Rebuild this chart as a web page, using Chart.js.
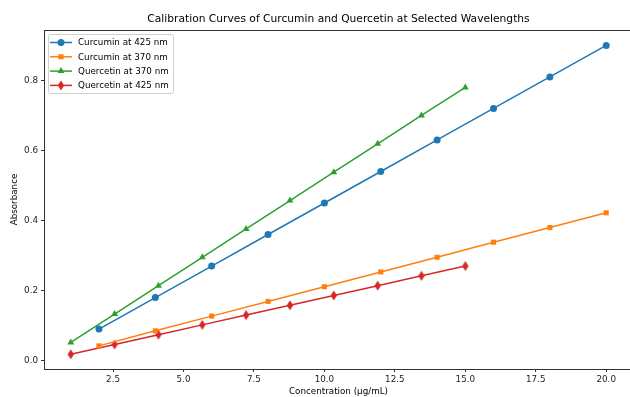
<!DOCTYPE html>
<html><head><meta charset="utf-8">
<script src="https://cdn.jsdelivr.net/npm/chart.js@4/dist/chart.umd.min.js"></script>
<style>html,body{margin:0;padding:0;background:#fff;overflow:hidden}#wrap{width:630px;height:397px;position:relative;overflow:hidden}</style>
</head><body><div id="wrap"><canvas id="c" width="633" height="397"></canvas></div>
<script>
const curcuminX = [2,4,6,8,10,12,14,16,18,20];
const curcumin425 = [0.09,0.18,0.27,0.36,0.45,0.54,0.63,0.72,0.81,0.90];
const curcumin370 = [0.042,0.085,0.127,0.169,0.211,0.253,0.295,0.338,0.380,0.422];
const quercetinX = [1,2.556,4.111,5.667,7.222,8.778,10.333,11.889,13.444,15];
const quercetin370 = [0.052,0.133,0.214,0.295,0.376,0.457,0.538,0.619,0.700,0.780];
const quercetin425 = [0.018,0.046,0.074,0.102,0.130,0.158,0.186,0.214,0.242,0.270];
const xTicks = [2.5,5.0,7.5,10.0,12.5,15.0,17.5,20.0];
const yTicks = [0.0,0.2,0.4,0.6,0.8];
const seriesLabels = ['Curcumin at 425 nm','Curcumin at 370 nm','Quercetin at 370 nm','Quercetin at 425 nm'];

const colors = ['#1f77b4','#ff7f0e','#2ca02c','#d62728'];
function thinDiamond(color){
  const c=document.createElement('canvas');c.width=8;c.height=11;
  const g=c.getContext('2d');g.fillStyle=color;g.beginPath();
  g.moveTo(4,0.5);g.lineTo(7.2,5.5);g.lineTo(4,10.5);g.lineTo(0.8,5.5);g.closePath();g.fill();
  return c;
}
const diamond = thinDiamond(colors[3]);
const styles = ['circle','rect','triangle',diamond];
const radii = [3.5,3.6,4,4];
const FONT = 'DejaVu Sans';
function pts(xs,ys){return xs.map((x,i)=>({x:x,y:ys[i]}));}
const datas=[pts(curcuminX,curcumin425),pts(curcuminX,curcumin370),pts(quercetinX,quercetin370),pts(quercetinX,quercetin425)];

const deco = {
  id:'deco',
  afterDraw(chart){
    const ctx=chart.ctx, a=chart.chartArea;
    ctx.save();
    ctx.strokeStyle='#333';ctx.lineWidth=1;
    ctx.strokeRect(a.left+0.5,a.top+0.5,a.right-a.left-1,a.bottom-a.top);
    ctx.fillStyle='#000';ctx.font='10.7px "'+FONT+'"';ctx.textAlign='center';ctx.textBaseline='middle';
    ctx.fillText('Calibration Curves of Curcumin and Quercetin at Selected Wavelengths',(a.left+a.right)/2,19);
    // legend
    const lx=48, ly=34, lw=125, lh=59;
    ctx.fillStyle='rgba(255,255,255,0.8)';ctx.strokeStyle='#d0d0d0';
    ctx.beginPath();ctx.roundRect(lx+0.5,ly+0.5,lw,lh,2);ctx.fill();ctx.stroke();
    ctx.font='8.75px "'+FONT+'"';ctx.textAlign='left';
    for(let i=0;i<4;i++){
      const y=ly+8.5+i*14.3;
      ctx.strokeStyle=colors[i];ctx.lineWidth=1.5;
      ctx.beginPath();ctx.moveTo(lx+2,y);ctx.lineTo(lx+24,y);ctx.stroke();
      ctx.fillStyle=colors[i];
      if(i===3){ctx.drawImage(diamond,lx+13-4,y-5.5);}
      else Chart.helpers.drawPoint(ctx,{pointStyle:styles[i],radius:radii[i],borderWidth:0},lx+13,y);
      ctx.fillStyle='#000';
      ctx.fillText(seriesLabels[i],lx+30,y+0.5);
    }
    ctx.restore();
  }
};

new Chart(document.getElementById('c'),{
  type:'line',
  data:{datasets:datas.map((d,i)=>({
    label:seriesLabels[i],data:d,borderColor:colors[i],backgroundColor:colors[i],
    borderWidth:1.5,pointStyle:styles[i],pointRadius:radii[i],pointBorderWidth:0,
    pointBackgroundColor:colors[i],fill:false,tension:0,clip:false
  }))},
  options:{
    responsive:false,animation:false,
    layout:{autoPadding:false,padding:{top:30,right:0,left:0,bottom:0}},
    plugins:{legend:{display:false},title:{display:false},tooltip:{enabled:false}},
    scales:{
      x:{type:'linear',min:0.05,max:20.95,
        afterFit(s){s.height=28;s.paddingLeft=0;s.paddingRight=0;},
        afterBuildTicks(s){s.ticks=xTicks.map(v=>({value:v}));},
        ticks:{callback:v=>v.toFixed(1),color:'#222',font:{family:FONT,size:8.75},padding:2,maxRotation:0,autoSkip:false},
        grid:{drawOnChartArea:false,drawTicks:true,tickLength:3,color:'#333'},
        border:{display:true,color:'#333'},
        title:{display:true,text:'Concentration (µg/mL)',color:'#000',font:{family:FONT,size:8.75},padding:{top:1,bottom:0}}
      },
      y:{type:'linear',min:-0.024,max:0.944,
        afterFit(s){s.width=44;s.paddingTop=0;s.paddingBottom=0;},
        afterBuildTicks(s){s.ticks=yTicks.map(v=>({value:v}));},
        ticks:{callback:v=>v.toFixed(1),color:'#222',font:{family:FONT,size:8.75},padding:3,autoSkip:false},
        grid:{drawOnChartArea:false,drawTicks:true,tickLength:3,color:'#333'},
        border:{display:true,color:'#333'},
        title:{display:true,text:'Absorbance',color:'#000',font:{family:FONT,size:8.75},padding:{top:9,bottom:0}}
      }
    }
  },
  plugins:[deco]
});
</script></body></html>
